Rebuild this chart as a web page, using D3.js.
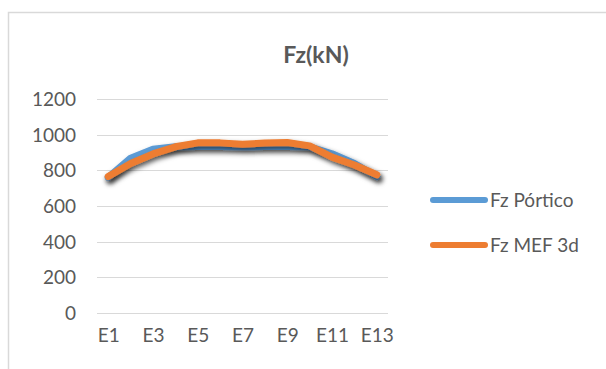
<!DOCTYPE html>
<html>
<head>
<meta charset="utf-8">
<script src="https://cdn.jsdelivr.net/npm/d3@7"></script>
<style>
  html, body { margin: 0; padding: 0; background: #fff; }
  svg { display: block; }
  text { font-family: Lato, "Open Sans", sans-serif; fill: #595959; }
</style>
</head>
<body>
<script>
// Station labels and vertical force per station (kN)
const categories = ["E1","E2","E3","E4","E5","E6","E7","E8","E9","E10","E11","E12","E13"];
const fzPortico = [760, 868, 918, 932, 933, 933, 932, 933, 933, 932, 893, 838, 765];
const fzMef3d   = [765, 838, 892, 932, 954, 954, 946, 953, 956, 937, 874, 830, 775];
const seriesNames = ["Fz Pórtico", "Fz MEF 3d"];
const seriesColors = ["#5B9BD5", "#ED7D31"];
const yTicks = [0, 200, 400, 600, 800, 1000, 1200];
const xLabelEvery = 2;
const title = "Fz(kN)";

const W = 606, H = 369;
const plot = { left: 97, right: 388, top: 99, bottom: 313 };

const svg = d3.select("body").append("svg").attr("width", W).attr("height", H);

// drop shadow used by the series lines
const defs = svg.append("defs");
const f = defs.append("filter").attr("id", "lineShadow")
  .attr("x", "-10%").attr("y", "-40%").attr("width", "130%").attr("height", "200%");
f.append("feDropShadow").attr("dx", 2).attr("dy", 3).attr("stdDeviation", 2.5)
  .attr("flood-color", "#000").attr("flood-opacity", 0.6);

// chart frame
svg.append("rect").attr("x", 8.5).attr("y", 12.5).attr("width", 640).attr("height", 400)
  .attr("fill", "none").attr("stroke", "#D9D9D9").attr("stroke-width", 1.5);

const x = d3.scalePoint().domain(categories).range([plot.left, plot.right]).padding(0.5);
const y = d3.scaleLinear().domain([0, 1200]).range([plot.bottom, plot.top]);

// gridlines
svg.append("g").selectAll("line").data(yTicks).join("line")
  .attr("x1", plot.left).attr("x2", plot.right)
  .attr("y1", d => Math.round(y(d)) + 0.5).attr("y2", d => Math.round(y(d)) + 0.5)
  .attr("stroke", "#D9D9D9").attr("stroke-width", 1);

// y axis labels
const yAxis = d3.axisLeft(y).tickValues(yTicks).tickFormat(d3.format("d")).tickSize(0).tickPadding(0);
svg.append("g").attr("transform", `translate(${plot.left - 21},0)`).call(yAxis)
  .call(g => g.select(".domain").remove())
  .selectAll("text").attr("font-size", 19).attr("font-family", "Lato, sans-serif")
  .attr("fill", "#595959").attr("dy", "0.35em");

// x axis labels (every other station)
const xAxis = d3.axisBottom(x).tickSize(0).tickPadding(0)
  .tickFormat((d, i) => i % xLabelEvery === 0 ? d : "");
svg.append("g").attr("transform", `translate(0,${plot.bottom + 15})`).call(xAxis)
  .call(g => g.select(".domain").remove())
  .selectAll("text").attr("font-size", 19).attr("font-family", "Lato, sans-serif")
  .attr("fill", "#595959");

// series lines
const line = d3.line().x((d, i) => x(categories[i])).y(d => y(d));
[fzPortico, fzMef3d].forEach((vals, k) => {
  svg.append("path").datum(vals)
    .attr("d", line)
    .attr("fill", "none")
    .attr("stroke", seriesColors[k])
    .attr("stroke-width", 7)
    .attr("stroke-linejoin", "round")
    .attr("stroke-linecap", "round")
    .attr("filter", "url(#lineShadow)");
});

// title
svg.append("text").attr("x", 316).attr("y", 63).attr("text-anchor", "middle")
  .attr("font-size", 23).attr("font-weight", "bold").text(title);

// legend
const legend = svg.append("g");
seriesNames.forEach((name, k) => {
  const ly = 200 + k * 45;
  legend.append("line").attr("x1", 433).attr("x2", 485).attr("y1", ly).attr("y2", ly)
    .attr("stroke", seriesColors[k]).attr("stroke-width", 6).attr("stroke-linecap", "round");
  legend.append("text").attr("x", 490).attr("y", ly).attr("dy", "0.35em")
    .attr("font-size", 19).text(name);
});
</script>
</body>
</html>
